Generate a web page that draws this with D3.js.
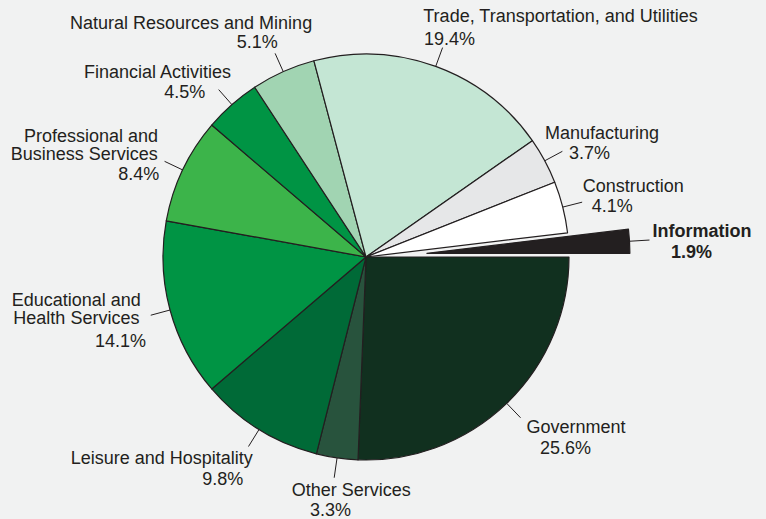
<!DOCTYPE html>
<html>
<head>
<meta charset="utf-8">
<script src="https://cdn.jsdelivr.net/npm/d3@7"></script>
<style>
  body { margin: 0; background: #f1f2f2; }
  svg { display: block; font-family: "Liberation Sans", Arial, sans-serif; }
</style>
</head>
<body>
<div id="canvas"></div>
<script>
// data, clockwise from 3 o'clock
const sectors = ["Government", "Other Services", "Leisure and Hospitality",
  "Educational and Health Services", "Professional and Business Services",
  "Financial Activities", "Natural Resources and Mining",
  "Trade, Transportation, and Utilities", "Manufacturing", "Construction", "Information"];
const shares = [25.6, 3.3, 9.8, 14.1, 8.4, 4.5, 5.1, 19.4, 3.7, 4.1, 1.9];
const labelLines = [
  ["Government"],
  ["Other Services"],
  ["Leisure and Hospitality"],
  ["Educational and", "Health Services"],
  ["Professional and", "Business Services"],
  ["Financial Activities"],
  ["Natural Resources and Mining"],
  ["Trade, Transportation, and Utilities"],
  ["Manufacturing"],
  ["Construction"],
  ["Information"]
];
const exploded = ["Information"];

// styles / layout
const colors = ["#11301f", "#28533d", "#006a37", "#009444", "#3cb44a", "#009444",
  "#a1d4b2", "#c4e6d4", "#e6e7e8", "#ffffff", "#231f20"];
// text line offsets from the end of each leader line (left edge, baseline)
const labelOffsets = [
  [[6, 15.5], [19.5, 36.2]],
  [[-42.5, 18.3], [-24.2, 38.3]],
  [[-177.8, 17.5], [-46.2, 38.5]],
  [[-139, -9.6], [-137.4, 9.2], [-55.7, 31.6]],
  [[-140.6, -19.7], [-153.9, -1.2], [-46.3, 18.6]],
  [[-134.7, -11.9], [-54.4, 8.1]],
  [[-205.1, -24.1], [-38.4, -5.7]],
  [[-19.3, -25.9], [-18.6, -2.6]],
  [[-17.3, -12], [6.7, 8]],
  [[0.5, -10.6], [9.5, 9.7]],
  [[3.1, -2.9], [21.4, 17.5]]
];

const width = 766;
const height = 519;
const cx = 366, cy = 257;
const radius = 203;
const leaderLen = 20;
const explode = 61;

const svg = d3.select("#canvas").append("svg")
  .attr("width", width)
  .attr("height", height);

svg.append("rect").attr("width", width).attr("height", height).attr("fill", "#f1f2f2");

const g = svg.append("g").attr("transform", `translate(${cx},${cy})`);

const color = d3.scaleOrdinal().domain(sectors).range(colors);

const pie = d3.pie()
  .sort(null)
  .value(d => d.value)
  .startAngle(Math.PI / 2)
  .endAngle(Math.PI / 2 + 2 * Math.PI);

const data = sectors.map((s, i) => ({ name: s, value: shares[i], lines: labelLines[i], offs: labelOffsets[i] }));
const arcs = pie(data);

const arc = d3.arc().innerRadius(0).outerRadius(radius);
const rim = d3.arc().innerRadius(radius).outerRadius(radius);
const outer = d3.arc().innerRadius(radius + leaderLen).outerRadius(radius + leaderLen);

function shift(d) {
  if (!exploded.includes(d.data.name)) return [0, 0];
  const a = (d.startAngle + d.endAngle) / 2;
  return [explode * Math.sin(a), -explode * Math.cos(a)];
}

const slices = g.selectAll("g.slice").data(arcs).enter().append("g")
  .attr("class", "slice")
  .attr("transform", d => `translate(${shift(d)})`);

slices.append("path")
  .attr("d", arc)
  .attr("fill", d => color(d.data.name))
  .attr("stroke", "#231f20")
  .attr("stroke-width", 1.2)
  .attr("stroke-linejoin", "round");

slices.append("line")
  .attr("x1", d => rim.centroid(d)[0])
  .attr("y1", d => rim.centroid(d)[1])
  .attr("x2", d => outer.centroid(d)[0])
  .attr("y2", d => outer.centroid(d)[1])
  .attr("stroke", "#231f20")
  .attr("stroke-width", 1);

const fmt = d3.format(".1f");

slices.each(function (d) {
  const end = outer.centroid(d);
  const lines = d.data.lines.concat([fmt(d.data.value) + "%"]);
  const t = d3.select(this).append("g");
  lines.forEach((txt, j) => {
    t.append("text")
      .attr("x", end[0] + d.data.offs[j][0])
      .attr("y", end[1] + d.data.offs[j][1])
      .attr("font-size", 18)
      .attr("font-weight", exploded.includes(d.data.name) ? "bold" : "normal")
      .attr("fill", "#231f20")
      .text(txt);
  });
});
</script>
</body>
</html>
